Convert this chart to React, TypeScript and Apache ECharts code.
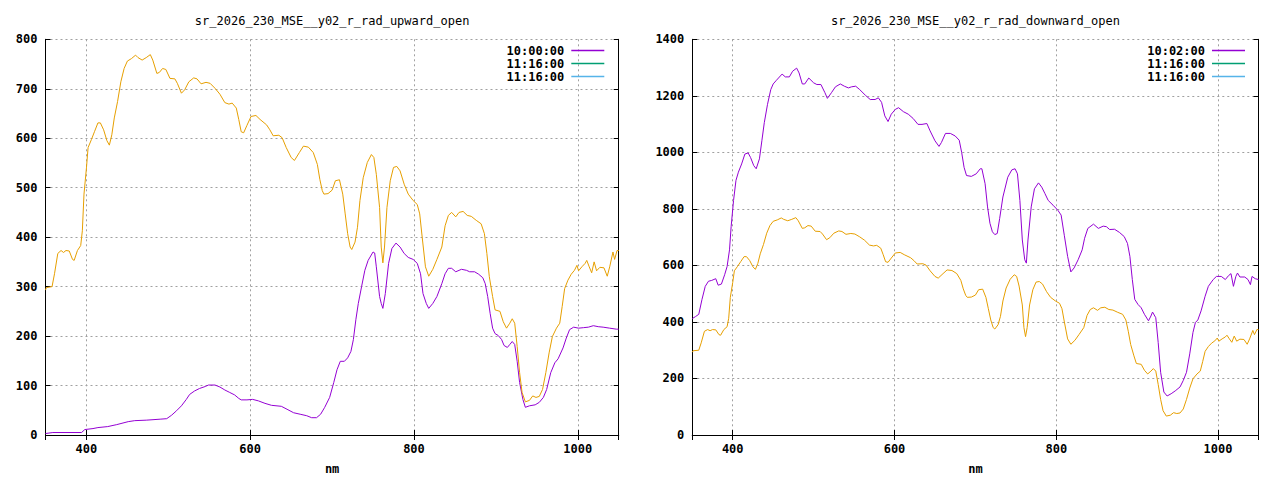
import React, { useEffect, useRef } from "react";
import * as echarts from "echarts";

// ---------- data ----------
const refNm = [350,351,358,361,365,369,372,375,379,383,385,389,393,395,397,400,402,406,410,414,417,421,425,428,431,434,438,442,446,450,455,460,463,468,473,478,481,486,489,493,497,502,508,511,516,520,525,531,535,540,546,551,557,563,569,574,578,583,586,589,592,596,601,607,612,620,624,628,635,639,644,650,654,660,665,671,677,682,685,688,690,695,700,704,709,713,716,719,722,724,728,731,734,738,743,748,751,754,758,760,762,764,767,771,775,779,783,788,793,799,804,807,810,814,818,823,828,834,838,842,846,851,855,860,865,870,876,882,886,889,892,896,899,905,909,913,917,920,923,926,929,932,936,941,945,949,953,957,961,965,969,974,978,981,984,988,992,996,999,1001,1005,1009,1011,1014,1017,1020,1023,1027,1032,1036,1039,1043,1045,1048,1050];
const refVal = [293,298,300,326,367,373,369,373,372,355,353,373,383,413,487,540,581,597,614,631,631,617,595,586,607,641,674,714,741,756,761,768,763,758,763,769,758,731,733,741,739,721,720,711,691,698,714,722,720,710,713,711,701,689,672,669,671,661,638,613,611,626,644,646,638,627,617,605,606,601,581,561,555,571,584,582,571,547,517,494,487,488,495,514,516,487,447,407,380,375,390,420,474,520,551,567,561,527,460,380,348,380,460,514,541,543,534,507,487,474,466,447,400,340,321,335,355,380,423,444,450,441,450,452,444,442,434,427,407,367,320,280,253,250,229,216,226,235,226,179,126,86,67,70,79,76,78,92,126,166,199,216,226,260,296,313,325,333,343,332,340,347,353,340,328,350,332,339,338,321,340,370,355,373,373];

const upNm = [350,359,394,398,408,414,426,437,451,459,473,490,498,504,510,516,522,526,532,538,545,549,557,563,569,575,581,586,589,596,603,610,618,626,638,645,653,661,669,675,681,686,691,697,702,706,710,715,719,723,726,729,732,736,740,744,750,752,754,758,760,762,765,769,773,778,783,788,793,799,804,808,811,815,818,823,828,834,838,842,846,851,858,864,868,874,879,884,887,890,893,896,899,903,907,910,914,917,920,923,926,929,933,936,941,948,953,958,962,967,972,976,982,986,990,995,1001,1007,1013,1019,1025,1031,1039,1047,1050];
const upVal = [3,5,5,11,13,15,17,21,27,29,30,32,33,40,49,59,72,82,89,94,98,101,101,97,91,86,81,74,71,71,72,69,64,60,58,52,45,42,39,35,35,42,56,76,106,132,149,149,156,169,193,233,266,300,333,353,370,368,340,280,266,256,286,347,377,388,380,367,359,355,347,326,286,266,256,266,280,306,326,337,337,330,335,333,330,330,325,318,306,280,246,216,205,201,193,181,177,183,189,183,149,106,72,56,59,61,66,76,92,126,146,154,176,196,213,218,216,217,218,221,219,218,216,214,214];

const downNm = [350,354,358,362,366,370,374,379,382,386,390,393,396,398,401,404,407,411,415,419,422,426,429,433,436,439,443,447,450,454,461,465,470,474,479,482,486,489,494,500,504,509,514,517,522,527,533,538,543,547,552,557,564,570,576,580,584,588,592,596,601,605,611,617,623,629,634,640,644,650,655,658,663,669,675,680,683,686,689,695,701,706,708,712,715,718,721,724,727,730,734,740,745,749,752,755,758,761,763,765,769,773,778,782,786,790,796,802,806,810,814,818,822,827,832,835,839,846,852,858,862,866,872,878,884,888,891,894,897,901,905,909,914,917,919,923,926,929,933,937,942,947,953,957,961,965,969,972,975,979,984,988,994,998,1004,1009,1013,1016,1019,1022,1024,1027,1033,1037,1040,1042,1046,1050];
const downVal = [412,419,427,480,526,544,547,553,530,534,567,596,655,737,830,901,930,959,994,998,982,953,942,977,1041,1105,1170,1222,1242,1255,1277,1267,1267,1287,1298,1281,1242,1242,1263,1246,1240,1240,1211,1191,1211,1232,1242,1234,1228,1232,1234,1222,1202,1187,1187,1193,1177,1129,1109,1135,1152,1158,1144,1135,1120,1099,1099,1102,1076,1041,1021,1035,1067,1067,1058,1043,1000,947,918,915,924,942,942,889,807,749,719,709,713,766,842,912,938,942,924,830,690,620,608,690,807,871,892,877,854,830,813,795,778,705,632,577,591,620,655,696,731,746,731,739,737,727,728,717,702,678,632,550,480,462,450,427,404,421,435,415,327,222,152,138,146,156,170,193,222,287,363,398,407,439,491,526,550,561,561,550,564,571,526,561,573,559,559,550,532,561,553,550];

const titles = ["sr_2026_230_MSE__y02_r_rad_upward_open", "sr_2026_230_MSE__y02_r_rad_downward_open"];
const legendNames = [["10:00:00", "11:16:00", "11:16:00"], ["10:02:00", "11:16:00", "11:16:00"]];
const xTicks = [400, 600, 800, 1000];
const yMax = [800, 1400];
const yStep = [100, 200];

const COLORS = ["#9400d3", "#009e73", "#56b4e9", "#e69f00"];
const FONT = "DejaVu Sans Mono";

const pairs = (xs: number[], ys: number[]) => xs.map((x, i) => [x, ys[i]]);

const grids = [
  { left: 45.5, top: 39.3, width: 573.2, height: 398.6 },
  { left: 692.3, top: 39.3, width: 566.2, height: 398.6 },
];

function buildOption() {
  const xAxis: any[] = [];
  const yAxis: any[] = [];
  const series: any[] = [];
  const legend: any[] = [];
  const graphic: any[] = [];
  const dash = { color: "#a0a0a0", width: 1, type: [2, 3] };
  const lblStyle = { color: "#000", fontFamily: FONT, fontSize: 12, fontWeight: "bold" };

  grids.forEach((g, gi) => {
    // bottom x axis
    xAxis.push({
      type: "value", gridIndex: gi, position: "bottom", min: 350, max: 1050,
      splitNumber: 3, minInterval: 200, maxInterval: 200,
      name: "nm", nameLocation: "middle", nameGap: 28,
      nameTextStyle: { ...lblStyle },
      axisLine: { show: true, lineStyle: { color: "#000", width: 1 } },
      axisTick: { show: true, inside: true, length: 5, lineStyle: { color: "#000" } },
      axisLabel: {
        ...lblStyle, margin: 8, showMinLabel: false, showMaxLabel: false,
        formatter: (v: number) => (xTicks.indexOf(v) >= 0 ? String(v) : ""),
      },
      splitLine: { show: true, lineStyle: dash },
    });
    // top mirror
    xAxis.push({
      type: "value", gridIndex: gi, position: "top", min: 350, max: 1050,
      splitNumber: 3, minInterval: 200, maxInterval: 200,
      axisLine: { show: true, lineStyle: { color: "#000", width: 1 } },
      axisTick: { show: true, inside: true, length: 5, lineStyle: { color: "#000" } },
      axisLabel: { show: false },
      splitLine: { show: false },
    });
    yAxis.push({
      type: "value", gridIndex: gi, position: "left", min: 0, max: yMax[gi], interval: yStep[gi],
      axisLine: { show: true, lineStyle: { color: "#000", width: 1 } },
      axisTick: { show: true, inside: true, length: 5, lineStyle: { color: "#000" } },
      axisLabel: { ...lblStyle, margin: 8, formatter: (v: number) => String(v) },
      splitLine: { show: true, lineStyle: dash },
    });
    yAxis.push({
      type: "value", gridIndex: gi, position: "right", min: 0, max: yMax[gi], interval: yStep[gi],
      axisLine: { show: true, lineStyle: { color: "#000", width: 1 } },
      axisTick: { show: true, inside: true, length: 5, lineStyle: { color: "#000" } },
      axisLabel: { show: false },
      splitLine: { show: false },
    });

    const xi = gi * 2;
    const yi = gi * 2;
    const names = legendNames[gi].map((n, k) => `${n}#${gi}${k}`);
    const mainData = gi === 0 ? pairs(upNm, upVal) : pairs(downNm, downVal);
    const base = {
      type: "line", xAxisIndex: xi, yAxisIndex: yi, showSymbol: false, symbol: "none",
      animation: false, silent: true,
    };
    series.push({ ...base, name: names[0], data: mainData, color: COLORS[0], lineStyle: { width: 1, color: COLORS[0] } });
    series.push({ ...base, name: names[1], data: [], color: COLORS[1], lineStyle: { width: 1, color: COLORS[1] } });
    series.push({ ...base, name: names[2], data: [], color: COLORS[2], lineStyle: { width: 1, color: COLORS[2] } });
    series.push({ ...base, name: `ref#${gi}`, data: pairs(refNm, refVal), color: COLORS[3], lineStyle: { width: 1, color: COLORS[3] } });

    legend.push({
      data: names, orient: "vertical", align: "right", padding: 0,
      right: gi === 0 ? 1280 - 604.3 : 1280 - 1245, top: 44,
      itemWidth: 33, itemHeight: 1.5, itemGap: 0, icon: "rect", selectedMode: false,
      formatter: (n: string) => n.split("#")[0],
      textStyle: { ...lblStyle, lineHeight: 13, padding: [0, 2, 0, 0] },
    });

    graphic.push({
      type: "text", x: g.left + g.width / 2, y: 21,
      style: {
        text: titles[gi], fill: "#000", fontFamily: FONT, fontSize: 12,
        align: "center", verticalAlign: "middle", textAlign: "center", textVerticalAlign: "middle",
      },
    });
  });

  return {
    animation: false,
    backgroundColor: "#fff",
    grid: grids,
    xAxis, yAxis, series, legend, graphic,
  };
}

export default function App() {
  const ref = useRef<HTMLDivElement>(null);
  useEffect(() => {
    if (!ref.current) return;
    const chart = echarts.init(ref.current, undefined, { renderer: "svg" });
    chart.setOption(buildOption() as any);
    return () => chart.dispose();
  }, []);
  return (
    <div
      ref={ref}
      style={{ position: "fixed", left: 0, top: 0, width: 1280, height: 480, background: "#fff" }}
    />
  );
}
